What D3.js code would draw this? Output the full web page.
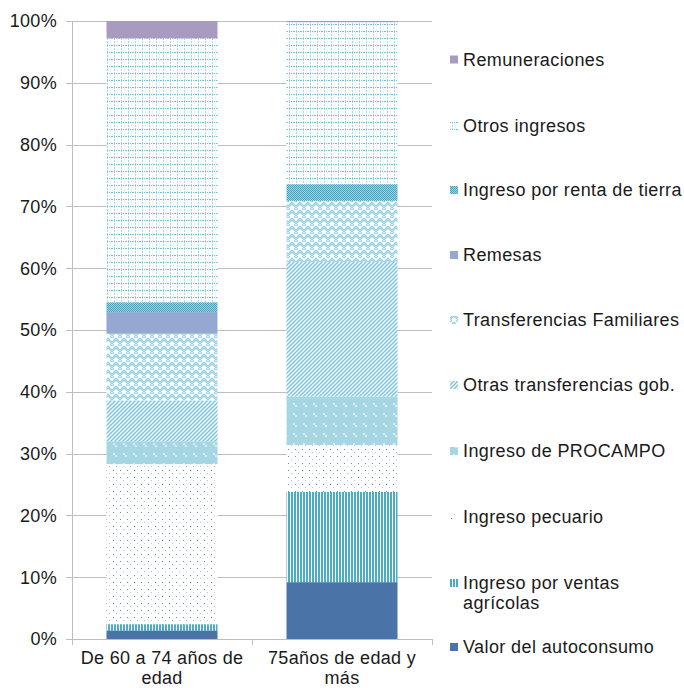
<!DOCTYPE html>
<html>
<head>
<meta charset="utf-8">
<script src="https://cdn.jsdelivr.net/npm/d3@7"></script>
<style>
  body { margin: 0; background: #fff; }
  text { font-family: "Liberation Sans", Arial, sans-serif; fill: #1a1a1a; }
</style>
</head>
<body>
<div id="chart"></div>
<script>
// categories and series, bottom to top of the stack
var categories = [["De 60 a 74 años de", "edad"], ["75años de edad y", "más"]];
var seriesNames = ["Valor del autoconsumo", "Ingreso por ventas agrícolas", "Ingreso pecuario",
  "Ingreso de PROCAMPO", "Otras transferencias gob.", "Transferencias Familiares",
  "Remesas", "Ingreso por renta de tierra", "Otros ingresos", "Remuneraciones"];
var group1 = [1.4, 1.0, 25.9, 3.7, 6.6, 10.8, 3.5, 1.6, 42.7, 2.8];
var group2 = [9.2, 14.6, 7.6, 7.8, 21.8, 9.9, 0.0, 2.7, 26.2, 0.2];
var yTicks = [0, 10, 20, 30, 40, 50, 60, 70, 80, 90, 100];

var W = 684, H = 688,
    mLeft = 72, mRight = 432, mTop = 21, mBottom = 639;

var svg = d3.select("#chart").append("svg")
  .attr("width", W).attr("height", H);

var defs = svg.append("defs");

function pat(id, w, h, bg) {
  var p = defs.append("pattern").attr("id", id)
    .attr("patternUnits", "userSpaceOnUse").attr("width", w).attr("height", h);
  if (bg) p.append("rect").attr("width", w).attr("height", h).attr("fill", bg);
  return p;
}
function px(p, x0, y0, w, h, c) {
  p.append("rect").attr("x", x0).attr("y", y0).attr("width", w).attr("height", h).attr("fill", c);
}
// ventas agricolas: vertical stripes
var p = pat("p-ventas", 3, 3, "#fff");
px(p, 0, 0, 2, 3, "#4BACC6");
// pecuario: sparse dots
p = pat("p-pec", 7, 7, "#fff");
px(p, 1, 1, 1, 1, "#5B8FC8");
px(p, 4, 4, 1, 1, "#A8C4E4");
// procampo: light fill with checker spots
p = pat("p-proc", 10, 10, "#A7D6E3");
px(p, 3, 3, 2, 2, "#D8EEF4");
px(p, 5, 5, 2, 2, "#D8EEF4");
// otras transferencias: diagonal
p = pat("p-otras", 4, 4, "#fff");
p.append("path").attr("d", "M-1,1 L1,-1 M0,4 L4,0 M3,5 L5,3").attr("stroke", "#7CC4D8").attr("stroke-width", 1.5);
// transferencias familiares: herringbone
p = pat("p-fam", 8, 8, "#fff");
p.append("path").attr("d", "M0,6 L4,2 L8,6 M0,8 L4,4 L8,8 M0,2 L2,0 M6,0 L8,2")
  .attr("stroke", "#95CFDF").attr("stroke-width", 1.1).attr("fill", "none");
// renta de tierra: dense checker
p = pat("p-renta", 2, 2, "#9CD2E2");
px(p, 0, 0, 1, 1, "#3FA6C2");
px(p, 1, 1, 1, 1, "#3FA6C2");
// otros ingresos: dotted grid
p = pat("p-otros", 7, 7, "#fff");
for (var k = 0; k < 7; k += 2) {
  px(p, 2, k, 1, 1, "#A9DAE8");
  px(p, k, 3, 1, 1, "#6EBFD5");
}
px(p, 5, 0, 1, 7, "#EAF6FA");

var fills = ["#4A74A8", "url(#p-ventas)", "url(#p-pec)", "url(#p-proc)", "url(#p-otras)",
  "url(#p-fam)", "#95A8D1", "url(#p-renta)", "url(#p-otros)", "#A89BBF"];

var x = d3.scaleBand().domain([0, 1]).range([mLeft, mRight]).paddingInner(0).paddingOuter(0);
var y = d3.scaleLinear().domain([0, 100]).range([mBottom, mTop]);

// gridlines
svg.append("g").selectAll("line").data(yTicks).enter().append("line")
  .attr("x1", mLeft - 6).attr("x2", mRight)
  .attr("y1", function(d) { return Math.round(y(d)) + 0.5; })
  .attr("y2", function(d) { return Math.round(y(d)) + 0.5; })
  .attr("stroke", "#BFBFBF")
  .attr("stroke-width", 1);

// y axis line
svg.append("line").attr("x1", mLeft + 0.5).attr("x2", mLeft + 0.5)
  .attr("y1", mTop).attr("y2", mBottom + 0.5).attr("stroke", "#BDBDBD");

// y labels
svg.append("g").selectAll("text").data(yTicks).enter().append("text")
  .attr("x", 57).attr("y", function(d) { return y(d); })
  .attr("dy", "0.35em").attr("text-anchor", "end").attr("font-size", 18)
  .attr("letter-spacing", 0.3)
  .text(function(d) { return d + "%"; });

// stacked bars
var rows = [group1, group2].map(function(vals, i) {
  var o = { cat: i };
  seriesNames.forEach(function(s, j) { o[s] = vals[j]; });
  return o;
});
var layers = d3.stack().keys(seriesNames)(rows);
var bw = 111;

svg.append("g").selectAll("g").data(layers).enter().append("g")
  .attr("fill", function(d, i) { return fills[i]; })
  .selectAll("rect").data(function(d) { return d; }).enter().append("rect")
  .attr("x", function(d) { return x(d.data.cat) + (x.bandwidth() - bw) / 2; })
  .attr("y", function(d) { return y(d[1]); })
  .attr("width", bw)
  .attr("height", function(d) { return Math.max(0, y(d[0]) - y(d[1])); });

// x axis
svg.append("line").attr("x1", mLeft).attr("x2", mRight)
  .attr("y1", mBottom + 0.5).attr("y2", mBottom + 0.5).attr("stroke", "#BDBDBD");
[mLeft, mLeft + x.bandwidth(), mRight].forEach(function(tx) {
  svg.append("line").attr("x1", tx + 0.5).attr("x2", tx + 0.5)
    .attr("y1", mBottom).attr("y2", mBottom + 6).attr("stroke", "#BDBDBD");
});
categories.forEach(function(lines, i) {
  var cx = x(i) + x.bandwidth() / 2;
  var t = svg.append("text").attr("text-anchor", "middle").attr("font-size", 18)
    .attr("letter-spacing", 0.3).attr("x", cx).attr("y", 664);
  lines.forEach(function(l, k) {
    t.append("tspan").attr("x", cx).attr("dy", k === 0 ? 0 : 20).text(l);
  });
});

// legend, top to bottom
var legendY = [59.5, 126, 190, 255, 320, 385, 451, 517, 583, 647];
var order = seriesNames.slice().reverse();
var lfills = fills.slice().reverse();
var lg = svg.append("g").selectAll("g").data(order).enter().append("g")
  .attr("transform", function(d, i) { return "translate(450," + legendY[i] + ")"; });
lg.append("rect").attr("x", 0).attr("y", -4).attr("width", 8).attr("height", 8)
  .attr("fill", function(d, i) { return lfills[i]; });
lg.append("text").attr("x", 13).attr("dy", "0.35em").attr("font-size", 18)
  .attr("letter-spacing", 0.4)
  .each(function(d) {
    var t = d3.select(this);
    if (d === "Ingreso por ventas agrícolas") {
      t.append("tspan").attr("x", 13).text("Ingreso por ventas");
      t.append("tspan").attr("x", 13).attr("dy", 20).text("agrícolas");
    } else t.text(d);
  });
</script>
</body>
</html>
